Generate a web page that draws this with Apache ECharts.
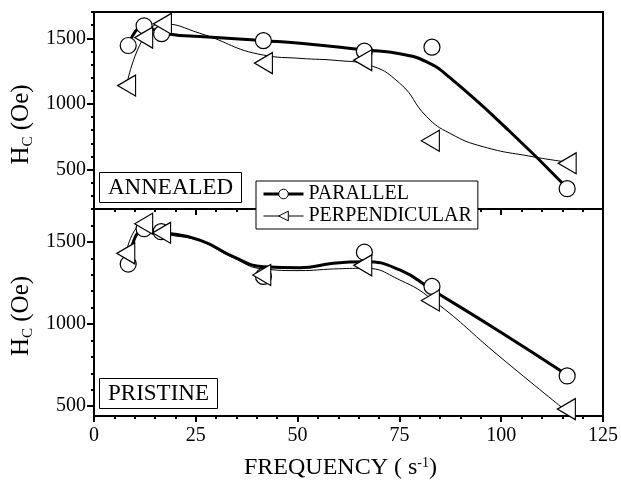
<!DOCTYPE html>
<html>
<head>
<meta charset="utf-8">
<script src="https://cdn.jsdelivr.net/npm/echarts@6/dist/echarts.min.js"></script>
<style>
html, body { margin: 0; background: #fff; }
#chart { width: 621px; height: 491px; }
</style>
</head>
<body>
<div id="chart"></div>
<script>
var font = 'Liberation Serif';

// measured points [frequency (1/s), Hc (Oe)]
var annealedPar = [[8.4, 1445], [12.3, 1595], [16.6, 1535], [41.6, 1482], [66.4, 1402], [83, 1432], [116.2, 355]];
var annealedPerp = [[8, 1140], [12.2, 1505], [16.8, 1610], [41.6, 1311], [66, 1333], [82.6, 720], [116.2, 548]];
var pristinePar = [[8.4, 1365], [12.3, 1580], [16.5, 1562], [41.6, 1290], [66.4, 1437], [83, 1229], [116.2, 684]];
var pristinePerp = [[7.8, 1430], [12.2, 1610], [16.6, 1555], [41.2, 1298], [66, 1357], [82.6, 1143], [116, 482]];

// guide curves as drawn in the figure
var annealedParFit = [[8.4, 1445], [12.3, 1595], [16.6, 1540], [28, 1510], [41.6, 1482], [50.6, 1462], [66.5, 1411],
    [75.1, 1382], [81.7, 1320], [87.4, 1200], [102, 794], [116.2, 360]];
var annealedPerpFit = [[8, 1140], [12.2, 1505], [16.8, 1610], [26, 1538], [41.6, 1372], [50.6, 1347],
    [60, 1330], [67, 1300], [75.1, 1157], [81.7, 903], [87.4, 776], [95.6, 674], [107.8, 598], [116, 558]];
var pristineParFit = [[8.4, 1365], [12.3, 1580], [16.5, 1560], [26, 1511], [34.2, 1410], [41.6, 1349], [50.6, 1342],
    [58.8, 1370], [66.5, 1379], [75.1, 1329], [83.1, 1207], [99.7, 953], [116.2, 690]];
var pristinePerpFit = [[7.8, 1430], [12.2, 1610], [16.6, 1555], [26, 1505], [34, 1405], [41.6, 1335], [50.6, 1325],
    [58.8, 1335], [66.5, 1339], [75.1, 1268], [83.2, 1146], [99.7, 800], [115.5, 480]];

var majorY = [500, 1000, 1500];
var minorYTop = [300, 400, 600, 700, 800, 900, 1100, 1200, 1300, 1400, 1600, 1700];
var minorYBottom = [600, 700, 800, 900, 1100, 1200, 1300, 1400, 1600, 1700];

var myChart = echarts.init(document.getElementById('chart'));

function xAxis(gridIndex, labels) {
    return {
        type: 'value', gridIndex: gridIndex, min: 0, max: 125, interval: 25,
        axisLine: { lineStyle: { color: '#000', width: 2 } },
        axisTick: { length: 6, lineStyle: { color: '#000', width: 2 } },
        minorTick: { show: true, splitNumber: 5, length: 3, lineStyle: { color: '#000', width: 2 } },
        splitLine: { show: false },
        axisLabel: { show: labels, color: '#000', fontFamily: font, fontSize: 20, margin: 10 },
        name: labels ? 'FREQUENCY ( s{sup|-1})' : '',
        nameLocation: 'middle', nameGap: 40,
        nameTextStyle: {
            color: '#000', fontFamily: font, fontSize: 24, padding: [0, 16, 0, 0],
            rich: { sup: { fontFamily: font, fontSize: 14, verticalAlign: 'top', color: '#000' } }
        }
    };
}

function yMajor(gridIndex, min, pad) {
    return {
        type: 'value', gridIndex: gridIndex, position: 'left', min: min, max: 1700,
        axisLine: { lineStyle: { color: '#000', width: 2 } },
        axisTick: { customValues: majorY, length: 7, lineStyle: { color: '#000', width: 2 } },
        axisLabel: {
            customValues: majorY, color: '#000', fontFamily: font, fontSize: 20, margin: 8,
            formatter: function (v) { return String(v); }
        },
        splitLine: { show: false },
        name: 'H{sub|C} (Oe)',
        nameLocation: 'middle', nameGap: 56,
        nameTextStyle: {
            color: '#000', fontFamily: font, fontSize: 25, lineHeight: 28, padding: [0, pad, 0, 0],
            rich: { sub: { fontFamily: font, fontSize: 15, verticalAlign: 'bottom', color: '#000' } }
        }
    };
}

function yMinor(gridIndex, min, ticks) {
    return {
        type: 'value', gridIndex: gridIndex, position: 'left', min: min, max: 1700,
        axisLine: { show: false },
        axisTick: { customValues: ticks, length: 3, lineStyle: { color: '#000', width: 2 } },
        axisLabel: { show: false },
        splitLine: { show: false }
    };
}

function fit(name, xi, yi, data, width, symbol) {
    return {
        name: name, type: 'line', xAxisIndex: xi, yAxisIndex: yi, data: data,
        smooth: 0.5, showSymbol: false, symbol: symbol, symbolRotate: symbol === 'triangle' ? 90 : 0,
        lineStyle: { color: '#000', width: width },
        itemStyle: { color: '#fff', borderColor: '#000', borderWidth: 1 },
        z: 2, silent: true
    };
}

function marks(name, xi, yi, data, symbol) {
    return {
        name: name, type: 'scatter', xAxisIndex: xi, yAxisIndex: yi, data: data,
        symbol: symbol,
        symbolSize: symbol === 'triangle' ? [21, 18] : 16,
        symbolRotate: symbol === 'triangle' ? 90 : 0,
        itemStyle: { color: '#fff', borderColor: '#000', borderWidth: 1.2, opacity: 1 },
        z: 3, silent: true
    };
}

var option = {
    backgroundColor: '#fff',
    animation: false,
    grid: [
        { left: 94, top: 12, width: 509, height: 197, show: true, borderColor: '#000', borderWidth: 2, outerBoundsMode: 'none' },
        { left: 94, top: 209, width: 509, height: 207, show: true, borderColor: '#000', borderWidth: 2, outerBoundsMode: 'none' }
    ],
    title: [
        {
            text: 'ANNEALED', left: 99, top: 172, padding: [2, 9],
            borderColor: '#000', borderWidth: 1, backgroundColor: '#fff',
            textStyle: { color: '#000', fontFamily: font, fontSize: 23, fontWeight: 'normal', lineHeight: 27 }
        },
        {
            text: 'PRISTINE', left: 99, top: 378, padding: [2, 9],
            borderColor: '#000', borderWidth: 1, backgroundColor: '#fff',
            textStyle: { color: '#000', fontFamily: font, fontSize: 23, fontWeight: 'normal', lineHeight: 27 }
        }
    ],
    legend: {
        left: 256, top: 181, orient: 'vertical', padding: [3, 6], itemGap: 2,
        itemWidth: 40, itemHeight: 12,
        borderColor: '#000', borderWidth: 1, backgroundColor: '#fff',
        textStyle: { color: '#000', fontFamily: font, fontSize: 20 },
        selectedMode: false,
        data: [
            { name: 'PARALLEL', lineStyle: { color: '#000', width: 3 }, itemStyle: { color: '#fff', borderColor: '#000', borderWidth: 1 } },
            { name: 'PERPENDICULAR', lineStyle: { color: '#000', width: 1 }, itemStyle: { color: '#fff', borderColor: '#000', borderWidth: 1 } }
        ]
    },
    xAxis: [xAxis(0, false), xAxis(1, true)],
    yAxis: [yMajor(0, 200, 28), yMinor(0, 200, minorYTop), yMajor(1, 440, 7), yMinor(1, 440, minorYBottom)],
    series: [
        fit('PARALLEL', 0, 0, annealedParFit, 3, 'circle'),
        fit('PERPENDICULAR', 0, 0, annealedPerpFit, 1, 'triangle'),
        fit('PARALLEL', 1, 2, pristineParFit, 3, 'circle'),
        fit('PERPENDICULAR', 1, 2, pristinePerpFit, 1, 'triangle'),
        marks('annealed parallel', 0, 0, annealedPar, 'circle'),
        marks('annealed perpendicular', 0, 0, annealedPerp, 'triangle'),
        marks('pristine parallel', 1, 2, pristinePar, 'circle'),
        marks('pristine perpendicular', 1, 2, pristinePerp, 'triangle')
    ]
};

myChart.setOption(option);
</script>
</body>
</html>
